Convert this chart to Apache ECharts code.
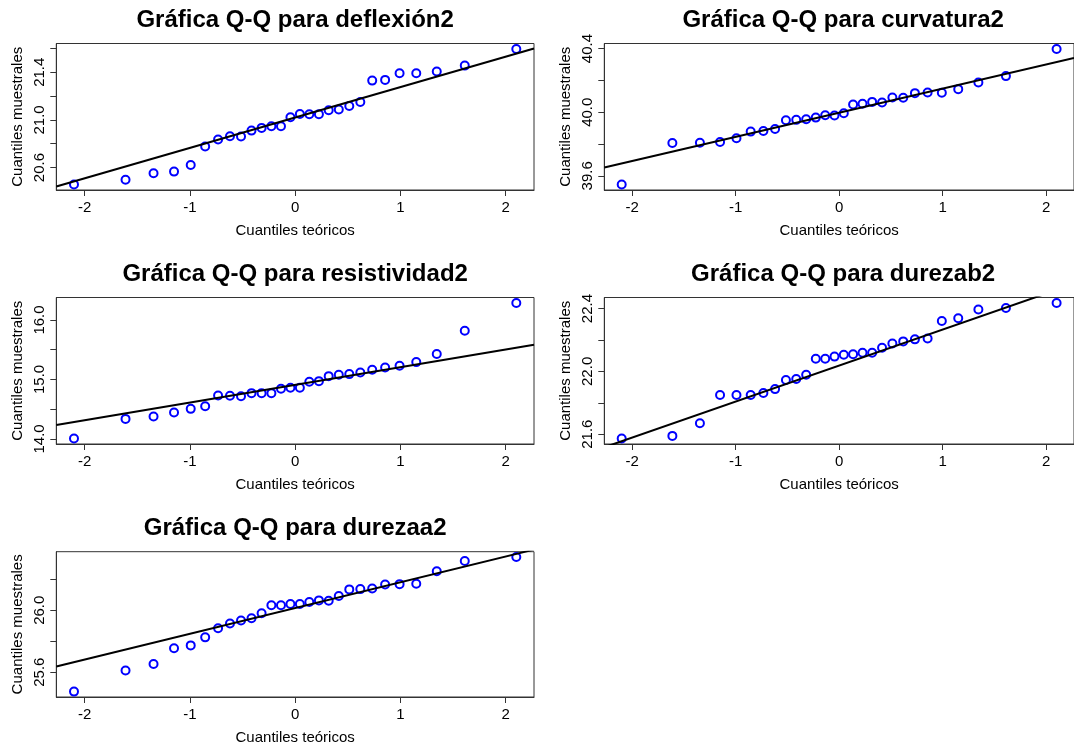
<!DOCTYPE html>
<html>
<head>
<meta charset="utf-8">
<script src="https://cdn.jsdelivr.net/npm/echarts@6/dist/echarts.min.js"></script>
<style>
html,body{margin:0;padding:0;background:#fff;}
#chart{width:1074px;height:746px;}
</style>
</head>
<body>
<div id="chart"></div>
<script>
// Theoretical quantiles (x) shared by all panels (n = 28)
const xTheoretical = [-2.1004,-1.6109,-1.3449,-1.1503,-0.9918,-0.8545,-0.7319,-0.6189,-0.5141,-0.4145,-0.3186,-0.2257,-0.1346,-0.0448,0.0448,0.1346,0.2257,0.3186,0.4145,0.5141,0.6189,0.7319,0.8545,0.9918,1.1503,1.3449,1.6109,2.1004];
const xTicks = [-2,-1,0,1,2];

// Sample quantiles
const deflexion2 = [20.457,20.497,20.552,20.566,20.622,20.776,20.835,20.863,20.860,20.910,20.933,20.947,20.947,21.022,21.050,21.048,21.048,21.081,21.087,21.117,21.151,21.330,21.336,21.392,21.392,21.406,21.456,21.596];
const curvatura2 = [39.545,39.806,39.808,39.813,39.836,39.878,39.882,39.895,39.949,39.952,39.956,39.966,39.981,39.979,39.994,40.048,40.053,40.065,40.061,40.093,40.091,40.120,40.124,40.122,40.145,40.187,40.227,40.398];
const resistividad2 = [14.006,14.337,14.376,14.444,14.506,14.551,14.730,14.725,14.719,14.770,14.770,14.770,14.843,14.860,14.860,14.961,14.972,15.056,15.079,15.090,15.118,15.163,15.202,15.230,15.292,15.427,15.820,16.287];
const durezab2 = [21.572,21.589,21.670,21.849,21.849,21.849,21.862,21.887,21.945,21.951,21.979,22.081,22.081,22.094,22.106,22.109,22.119,22.119,22.151,22.177,22.191,22.204,22.209,22.321,22.338,22.394,22.404,22.436];
const durezaa2 = [25.474,25.611,25.653,25.754,25.773,25.825,25.884,25.914,25.934,25.949,25.981,26.032,26.032,26.041,26.041,26.053,26.064,26.062,26.092,26.135,26.137,26.141,26.167,26.169,26.171,26.252,26.319,26.344];

// Reference lines [intercept, slope]
const lineDeflexion2 = [21.020, 0.2555];
const lineCurvatura2 = [39.997, 0.1517];
const lineResistividad2 = [14.910, 0.2972];
const lineDurezab2 = [22.037, 0.2294];
const lineDurezaa2 = [26.014, 0.1667];

// Y tick marks and labelled ticks
const yTicksDeflexion2 = [20.6,20.8,21.0,21.2,21.4,21.6];
const yLabelsDeflexion2 = [20.6,21.0,21.4];
const yTicksCurvatura2 = [39.6,39.8,40.0,40.2,40.4];
const yLabelsCurvatura2 = [39.6,40.0,40.4];
const yTicksResistividad2 = [14.0,14.5,15.0,15.5,16.0];
const yLabelsResistividad2 = [14.0,15.0,16.0];
const yTicksDurezab2 = [21.6,21.8,22.0,22.2,22.4];
const yLabelsDurezab2 = [21.6,22.0,22.4];
const yTicksDurezaa2 = [25.6,25.8,26.0,26.2];
const yLabelsDurezaa2 = [25.6,26.0];

const titles = ['Gráfica Q-Q para deflexión2','Gráfica Q-Q para curvatura2','Gráfica Q-Q para resistividad2','Gráfica Q-Q para durezab2','Gráfica Q-Q para durezaa2'];
const xName = 'Cuantiles teóricos';
const yName = 'Cuantiles muestrales';

const panels = [
  {vals: deflexion2, line: lineDeflexion2, ticks: yTicksDeflexion2, labels: yLabelsDeflexion2, left: 56.3, top: 43.5},
  {vals: curvatura2, line: lineCurvatura2, ticks: yTicksCurvatura2, labels: yLabelsCurvatura2, left: 604.3, top: 43.5},
  {vals: resistividad2, line: lineResistividad2, ticks: yTicksResistividad2, labels: yLabelsResistividad2, left: 56.3, top: 297.5},
  {vals: durezab2, line: lineDurezab2, ticks: yTicksDurezab2, labels: yLabelsDurezab2, left: 604.3, top: 297.5},
  {vals: durezaa2, line: lineDurezaa2, ticks: yTicksDurezaa2, labels: yLabelsDurezaa2, left: 56.3, top: 551.7}
];

const W = 477.7, H = 146.5;
const FONT = 'Liberation Sans, Arial, Helvetica, sans-serif';

function extend(arr) {
  const mn = Math.min.apply(null, arr), mx = Math.max.apply(null, arr);
  const d = (mx - mn) * 0.04;
  return [mn - d, mx + d];
}

const option = {
  backgroundColor: '#fff',
  animation: false,
  title: [], grid: [], xAxis: [], yAxis: [], series: []
};

const xr = extend(xTheoretical);

panels.forEach((p, i) => {
  const yr = extend(p.vals);
  option.title.push({
    text: titles[i], left: p.left + W / 2, top: p.top - 37, textAlign: 'center', padding: 0,
    textStyle: {fontFamily: FONT, fontWeight: 'bold', fontSize: 24, color: '#000', lineHeight: 28}
  });
  option.grid.push({left: p.left, top: p.top, width: W, height: H, show: true, borderColor: '#333', borderWidth: 1, backgroundColor: 'transparent'});
  option.xAxis.push({
    type: 'value', gridIndex: i, min: xr[0], max: xr[1], position: 'bottom',
    name: xName, nameLocation: 'middle', nameGap: 33,
    nameTextStyle: {fontFamily: FONT, fontSize: 15, color: '#000'},
    axisLine: {show: true, onZero: false, lineStyle: {color: '#333', width: 1}},
    axisTick: {show: true, inside: false, length: 6, lineStyle: {color: '#333'}, customValues: xTicks},
    axisLabel: {fontFamily: FONT, fontSize: 15, color: '#000', margin: 10, customValues: xTicks, formatter: v => String(v)},
    splitLine: {show: false}
  });
  option.yAxis.push({
    type: 'value', gridIndex: i, min: yr[0], max: yr[1], position: 'left',
    name: yName, nameLocation: 'middle', nameGap: 31, nameRotate: 90,
    nameTextStyle: {fontFamily: FONT, fontSize: 15, color: '#000'},
    axisLine: {show: true, onZero: false, lineStyle: {color: '#333', width: 1}},
    axisTick: {show: true, inside: false, length: 6, lineStyle: {color: '#333'}, customValues: p.ticks},
    axisLabel: {fontFamily: FONT, fontSize: 15, color: '#000', margin: 9, rotate: 90, customValues: p.labels, formatter: v => v.toFixed(1)},
    splitLine: {show: false}
  });
  option.series.push({
    type: 'scatter', xAxisIndex: i, yAxisIndex: i,
    data: xTheoretical.map((x, k) => [x, p.vals[k]]),
    symbol: 'circle', symbolSize: 8,
    itemStyle: {color: 'rgba(0,0,0,0)', borderColor: '#0000ff', borderWidth: 2, opacity: 1},
    silent: true
  });
  option.series.push({
    type: 'line', xAxisIndex: i, yAxisIndex: i, clip: true,
    data: [[xr[0], p.line[0] + p.line[1] * xr[0]], [xr[1], p.line[0] + p.line[1] * xr[1]]],
    symbol: 'none', lineStyle: {color: '#000', width: 2}, silent: true, z: 3
  });
});

const chart = echarts.init(document.getElementById('chart'), null, {renderer: 'canvas'});
chart.setOption(option);
</script>
</body>
</html>
